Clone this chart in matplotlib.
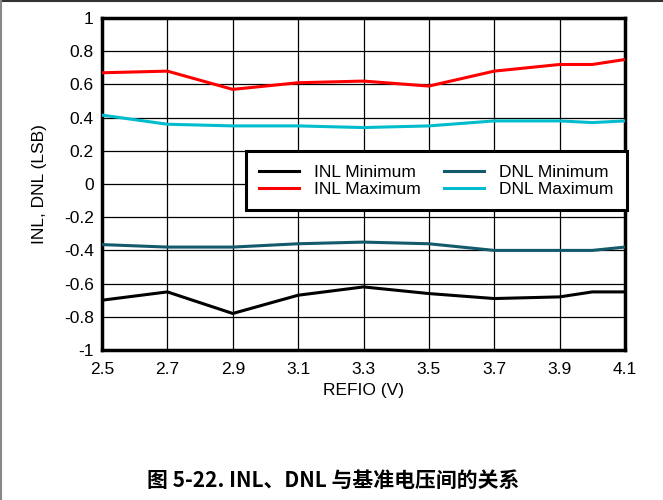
import matplotlib
matplotlib.use("Agg")
import matplotlib.pyplot as plt
from matplotlib.lines import Line2D

refio = [2.5, 2.7, 2.9, 3.1, 3.3, 3.5, 3.7, 3.9, 4.0, 4.1]
inl_min = [-0.70, -0.65, -0.78, -0.67, -0.62, -0.66, -0.69, -0.68, -0.65, -0.65]
inl_max = [0.67, 0.68, 0.57, 0.61, 0.62, 0.59, 0.68, 0.72, 0.72, 0.75]
dnl_min = [-0.365, -0.38, -0.38, -0.36, -0.35, -0.36, -0.40, -0.40, -0.40, -0.38]
dnl_max = [0.415, 0.36, 0.35, 0.35, 0.34, 0.35, 0.38, 0.38, 0.37, 0.38]

xticks = [2.5, 2.7, 2.9, 3.1, 3.3, 3.5, 3.7, 3.9, 4.1]
yticks = [-1, -0.8, -0.6, -0.4, -0.2, 0, 0.2, 0.4, 0.6, 0.8, 1]
ytick_labels = ["-1", "-0.8", "-0.6", "-0.4", "-0.2", "0", "0.2", "0.4", "0.6", "0.8", "1"]

plt.rcParams['font.family'] = ['Liberation Sans', 'DejaVu Sans']

fig = plt.figure(figsize=(6.63, 5.0), dpi=100)
ax = fig.add_axes([102/663, 1 - 350/500, (625 - 102)/663, (350 - 18)/500])

ax.plot(refio, inl_min, color='black', lw=2.2, label='INL Minimum', zorder=3)
ax.plot(refio, inl_max, color='#ff0000', lw=2.2, label='INL Maximum', zorder=3)
ax.plot(refio, dnl_min, color='#135a6c', lw=2.2, label='DNL Minimum', zorder=3)
ax.plot(refio, dnl_max, color='#00bccc', lw=2.2, label='DNL Maximum', zorder=3)

ax.set_xlim(2.5, 4.1)
ax.set_ylim(-1, 1)
ax.set_xticks(xticks)
ax.set_xticklabels([f"{v:.1f}" for v in xticks])
ax.set_yticks(yticks)
ax.set_yticklabels(ytick_labels)
ax.tick_params(axis='x', length=0, labelsize=12.5, pad=9, colors='black')
ax.tick_params(axis='y', length=0, labelsize=12.5, pad=6, colors='black')
ax.grid(True, color='black', lw=0.9)
for s in ax.spines.values():
    s.set_linewidth(2.5)
    s.set_color('black')

ax.set_xlabel('REFIO (V)', fontsize=12.5, labelpad=4)
ax.set_ylabel('INL, DNL (LSB)', fontsize=12.5, labelpad=12)

leg = ax.legend(ncol=2, loc='upper right', bbox_to_anchor=(1.003, 0.598),
                fontsize=12.5, frameon=True, fancybox=False, framealpha=1,
                edgecolor='black', handlelength=2.3, handletextpad=0.9,
                columnspacing=1.3, labelspacing=0.15, borderpad=0.75,
                borderaxespad=0)
leg.get_frame().set_linewidth(2.2)
leg.set_zorder(5)

fig.text(0.502, 1 - 480/500, '图 5-22. INL、DNL 与基准电压间的关系',
         ha='center', va='center', fontsize=15, fontweight='bold',
         family=['Noto Sans CJK SC', 'DejaVu Sans'])

fig.add_artist(Line2D([0, 1], [0.999, 0.999], color='#333333', lw=1.5, transform=fig.transFigure))
fig.add_artist(Line2D([0.001, 0.001], [0, 1], color='#888888', lw=1.5, transform=fig.transFigure))

fig.savefig('out.png', dpi=100)
